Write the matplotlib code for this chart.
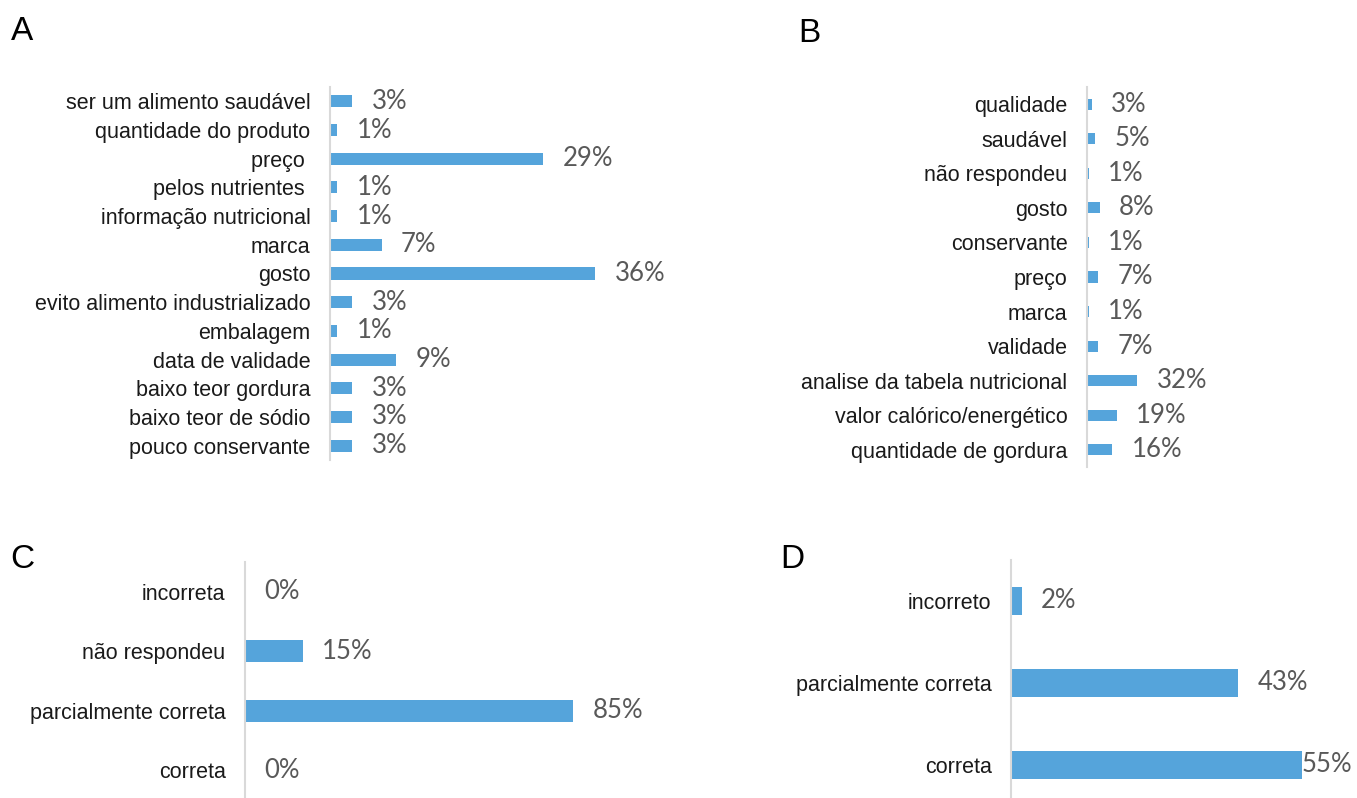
import matplotlib
matplotlib.use("Agg")
import matplotlib.pyplot as plt

# panel A
cats_a = ["ser um alimento saudável", "quantidade do produto", "preço ", "pelos nutrientes ",
          "informação nutricional", "marca", "gosto", "evito alimento industrializado",
          "embalagem", "data de validade", "baixo teor gordura", "baixo teor de sódio",
          "pouco conservante"]
vals_a = [3, 1, 29, 1, 1, 7, 36, 3, 1, 9, 3, 3, 3]

# panel B
cats_b = ["qualidade", "saudável", "não respondeu", "gosto", "conservante", "preço",
          "marca", "validade", "analise da tabela nutricional", "valor calórico/energético",
          "quantidade de gordura"]
vals_b = [3, 5, 1, 8, 1, 7, 1, 7, 32, 19, 16]

# panel C
cats_c = ["incorreta", "não respondeu", "parcialmente correta", "correta"]
vals_c = [0, 15, 85, 0]

# panel D
cats_d = ["incorreto", "parcialmente correta", "correta"]
vals_d = [2, 43, 55]

W, H = 1357, 798
BAR = "#55a4db"
GREY = "#595959"
CAT_FONT = ["Liberation Sans", "DejaVu Sans"]
VAL_FONT = ["Lato", "DejaVu Sans"]

fig = plt.figure(figsize=(W / 100, H / 100), dpi=100)


def panel(left, top, bottom, xmax, px_per_unit, cats, vals, height, letter, letter_xy,
          cat_size=15.5, val_size=18.5):
    width = xmax * px_per_unit
    ax = fig.add_axes([left / W, 1 - bottom / H, width / W, (bottom - top) / H])
    n = len(cats)
    ax.barh(range(n), vals, height=height, color=BAR)
    ax.set_xlim(0, xmax)
    ax.set_ylim(n - 0.5, -0.5)
    ax.set_yticks(range(n))
    ax.set_yticklabels(cats, fontsize=cat_size, family=CAT_FONT, color="#1a1a1a")
    ax.tick_params(axis="y", length=0, pad=14)
    ax.set_xticks([])
    for s in ["top", "right", "bottom"]:
        ax.spines[s].set_visible(False)
    ax.spines["left"].set_color("#d9d9d9")
    ax.spines["left"].set_linewidth(1.5)
    for i, v in enumerate(vals):
        x_end = left + v * px_per_unit
        off = 14 if x_end + 75 < W else 0
        ax.annotate(f"{v}%", (v, i), xytext=(off, 0), textcoords="offset points",
                    va="center", ha="left", fontsize=val_size, family=VAL_FONT, color=GREY)
    fig.text(letter_xy[0] / W, 1 - letter_xy[1] / H, letter, fontsize=24,
             family=["Liberation Sans", "DejaVu Sans"], va="top", ha="left")
    return ax


panel(330, 87, 460, 50, 7.36, cats_a, vals_a, 0.42, "A", (11, 16))
panel(1087, 87, 467, 50, 1.57, cats_b, vals_b, 0.32, "B", (798, 18))
panel(245, 562, 800, 100, 3.86, cats_c, vals_c, 0.37, "C", (10, 544))
panel(1011, 560, 806, 60, 5.29, cats_d, vals_d, 0.35, "D", (780, 544))

fig.savefig("out.png", dpi=100)
